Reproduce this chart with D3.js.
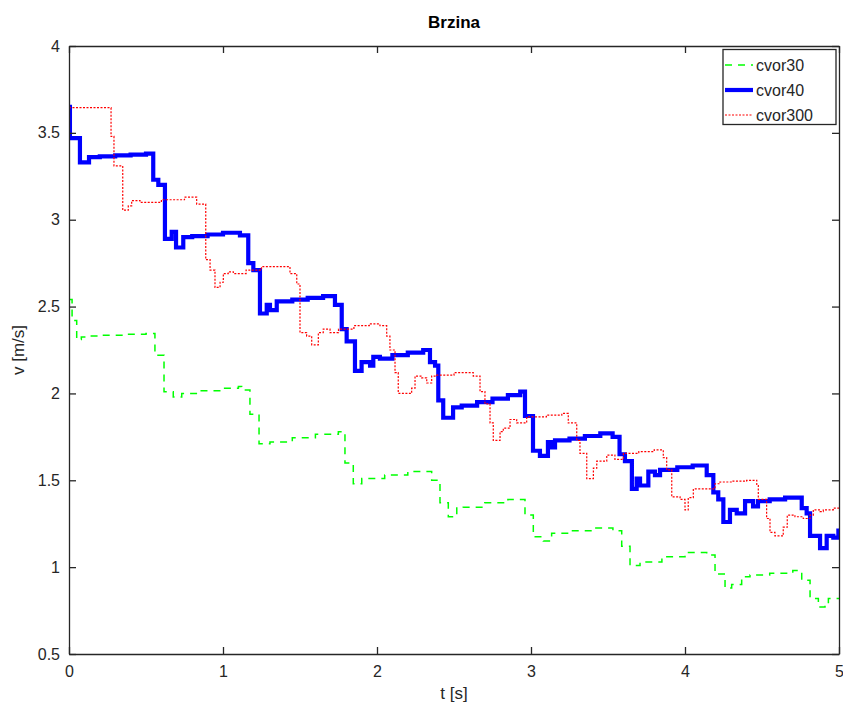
<!DOCTYPE html>
<html><head><meta charset="utf-8">
<script src="https://cdn.jsdelivr.net/npm/d3@7"></script>
<style>body{margin:0;background:#fff}svg{display:block}text{font-family:"Liberation Sans",Arial,sans-serif}</style>
</head><body><svg id="c" width="843" height="706"></svg>
<script>
// ---- data ----
const xTicks = [0,1,2,3,4,5];
const yTicks = [0.5,1,1.5,2,2.5,3,3.5,4];
const seriesNames = ["cvor30","cvor40","cvor300"];

const cvor30T = [0,0.02,0.05,0.08,0.115,0.2,0.35,0.5,0.558,0.617,0.677,0.732,0.85,1.0,1.1,1.121,1.175,1.234,1.305,1.45,1.6,1.749,1.792,1.846,1.901,2.05,2.2,2.355,2.409,2.463,2.518,2.56,2.7,2.85,2.961,3.015,3.08,3.134,3.25,3.4,3.532,3.589,3.643,3.708,3.85,4.0,4.141,4.195,4.26,4.303,4.368,4.422,4.55,4.7,4.758,4.812,4.866,4.909,4.931,5];
const cvor30V = [2.54,2.42,2.31,2.325,2.33,2.335,2.34,2.345,2.22,2.01,1.98,2.0,2.015,2.03,2.04,2.02,1.88,1.71,1.72,1.745,1.765,1.78,1.60,1.48,1.51,1.53,1.55,1.50,1.37,1.29,1.34,1.345,1.37,1.39,1.30,1.175,1.15,1.195,1.21,1.225,1.21,1.12,1.01,1.03,1.06,1.085,1.07,0.96,0.88,0.90,0.945,0.955,0.965,0.98,0.925,0.82,0.77,0.79,0.82,0.82];

const cvor40T = [0,0.006,0.071,0.13,0.2,0.3,0.4,0.5,0.547,0.58,0.623,0.667,0.695,0.742,0.8,0.9,1.0,1.11,1.164,1.197,1.24,1.284,1.305,1.349,1.45,1.55,1.65,1.727,1.771,1.803,1.857,1.90,1.955,1.976,2.019,2.1,2.2,2.3,2.344,2.377,2.398,2.43,2.494,2.55,2.65,2.75,2.85,2.93,2.961,3.013,3.058,3.11,3.134,3.156,3.25,3.35,3.45,3.53,3.575,3.61,3.655,3.686,3.708,3.762,3.805,3.838,3.95,4.05,4.141,4.184,4.216,4.249,4.292,4.336,4.39,4.442,4.474,4.55,4.65,4.758,4.79,4.812,4.877,4.92,4.963,4.996,5];
const cvor40V = [3.65,3.47,3.33,3.36,3.365,3.37,3.375,3.38,3.23,3.20,2.89,2.93,2.84,2.90,2.905,2.915,2.925,2.91,2.75,2.71,2.46,2.51,2.48,2.53,2.54,2.55,2.56,2.51,2.37,2.30,2.13,2.18,2.16,2.21,2.20,2.22,2.235,2.25,2.18,2.16,1.96,1.86,1.92,1.93,1.95,1.97,1.99,2.01,1.87,1.67,1.64,1.72,1.69,1.73,1.74,1.755,1.77,1.75,1.65,1.61,1.45,1.51,1.47,1.55,1.53,1.56,1.575,1.585,1.53,1.43,1.39,1.26,1.33,1.31,1.38,1.35,1.38,1.39,1.40,1.34,1.31,1.18,1.11,1.18,1.17,1.21,1.21];

const cvor300T = [0,0.273,0.292,0.349,0.385,0.407,0.461,0.6,0.75,0.829,0.888,0.916,0.948,0.981,1.002,1.034,1.067,1.15,1.25,1.435,1.479,1.5,1.543,1.576,1.619,1.651,1.695,1.75,1.85,1.95,2.019,2.063,2.084,2.117,2.138,2.225,2.247,2.29,2.323,2.355,2.388,2.5,2.625,2.669,2.701,2.734,2.755,2.799,2.82,2.864,2.907,2.972,3.1,3.2,3.242,3.297,3.318,3.362,3.405,3.427,3.492,3.545,3.6,3.7,3.8,3.859,3.881,3.914,3.968,4.0,4.021,4.054,4.195,4.227,4.3,4.4,4.466,4.476,4.53,4.552,4.584,4.638,4.664,4.714,4.768,4.812,4.833,4.877,4.898,4.963,5];
const cvor300V = [3.645,3.48,3.31,3.055,3.08,3.11,3.10,3.115,3.13,3.09,2.77,2.71,2.61,2.64,2.69,2.70,2.69,2.71,2.73,2.69,2.63,2.35,2.33,2.28,2.35,2.37,2.35,2.37,2.39,2.40,2.39,2.33,2.25,2.12,2.0,2.03,2.10,2.09,2.06,2.10,2.105,2.12,2.10,2.01,1.94,1.83,1.73,1.78,1.80,1.85,1.83,1.865,1.875,1.885,1.83,1.73,1.655,1.51,1.57,1.61,1.645,1.62,1.655,1.665,1.675,1.63,1.56,1.405,1.39,1.33,1.40,1.45,1.48,1.49,1.495,1.50,1.47,1.39,1.28,1.20,1.18,1.23,1.30,1.29,1.28,1.30,1.33,1.32,1.33,1.34,1.34];

// ---- layout ----
const svg = d3.select("#c");
const L = 69, R = 839, T = 46, B = 654;
const x = d3.scaleLinear().domain([0,5]).range([L,R]);
const y = d3.scaleLinear().domain([0.5,4]).range([B,T]);
const ink = "#262626";

svg.append("defs").append("clipPath").attr("id","clip")
  .append("rect").attr("x",L).attr("y",T).attr("width",R-L).attr("height",B-T);

const styles = [
  {T:cvor30T, V:cvor30V, color:"#00ff00", w:1.5, dash:"7,6"},
  {T:cvor40T, V:cvor40V, color:"#0000ff", w:4.2, dash:null},
  {T:cvor300T, V:cvor300V, color:"#ff0000", w:1.2, dash:"2,1.5"}
];
const line = d3.line().x(d=>x(d[0])).y(d=>y(d[1])).curve(d3.curveStepAfter);
const g = svg.append("g").attr("clip-path","url(#clip)");
styles.forEach(s=>{
  const pts = s.T.map((t,i)=>[t,s.V[i]]);
  g.append("path").attr("d",line(pts)).attr("fill","none")
    .attr("stroke",s.color).attr("stroke-width",s.w)
    .attr("stroke-dasharray",s.dash).attr("stroke-linejoin","miter");
});

// axes
function styleAxis(sel){
  sel.selectAll("path").attr("stroke",ink).attr("stroke-width",1.3);
  sel.selectAll("line").attr("stroke",ink).attr("stroke-width",1.3);
  sel.selectAll("text").attr("fill",ink).style("font-size","16px");
}
svg.append("g").attr("transform",`translate(0,${B})`)
  .call(d3.axisBottom(x).tickValues(xTicks).tickFormat(d3.format("d")).tickSize(-7).tickSizeOuter(0).tickPadding(12))
  .call(styleAxis);
svg.append("g").attr("transform",`translate(0,${T})`)
  .call(d3.axisTop(x).tickValues(xTicks).tickFormat("").tickSize(-7).tickSizeOuter(0))
  .call(styleAxis);
svg.append("g").attr("transform",`translate(${L},0)`)
  .call(d3.axisLeft(y).tickValues(yTicks).tickFormat(d=>d3.format("")(d)).tickSize(-7).tickSizeOuter(0).tickPadding(9))
  .call(styleAxis);
svg.append("g").attr("transform",`translate(${R},0)`)
  .call(d3.axisRight(y).tickValues(yTicks).tickFormat("").tickSize(-7).tickSizeOuter(0))
  .call(styleAxis);

// titles
svg.append("text").attr("x",(L+R)/2).attr("y",28).attr("text-anchor","middle")
  .attr("fill","#000").style("font-size","17px").style("font-weight","bold").text("Brzina");
svg.append("text").attr("x",(L+R)/2).attr("y",699).attr("text-anchor","middle")
  .attr("fill",ink).style("font-size","17px").text("t [s]");
svg.append("text").attr("transform",`translate(24,${(T+B)/2}) rotate(-90)`).attr("text-anchor","middle")
  .attr("fill",ink).style("font-size","17px").text("v [m/s]");

// legend
const lg = svg.append("g");
lg.append("rect").attr("x",723).attr("y",49.5).attr("width",113).attr("height",75)
  .attr("fill","#fff").attr("stroke",ink).attr("stroke-width",1.3);
styles.forEach((s,i)=>{
  const yy = 65 + i*25;
  lg.append("line").attr("x1",725).attr("x2",753).attr("y1",yy).attr("y2",yy)
    .attr("stroke",s.color).attr("stroke-width",s.w).attr("stroke-dasharray",s.dash);
  lg.append("text").attr("x",756).attr("y",yy+5.5).attr("fill",ink).style("font-size","16px").text(seriesNames[i]);
});
</script></body></html>
